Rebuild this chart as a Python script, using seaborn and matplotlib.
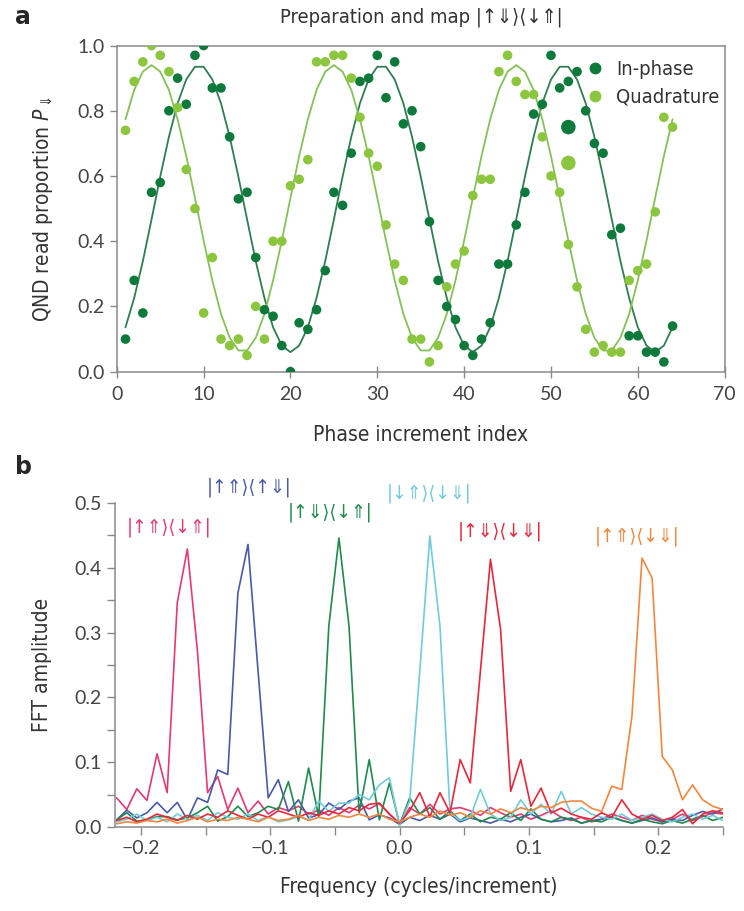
import numpy as np
import pandas as pd
import matplotlib
matplotlib.use('Agg')
import matplotlib.pyplot as plt
import seaborn as sns
from matplotlib.ticker import MultipleLocator
from matplotlib.lines import Line2D

# --- panel a: QND read proportion vs phase increment ---
idx = list(range(1, 65))
in_phase = [0.10, 0.28, 0.18, 0.55, 0.58, 0.80, 0.90, 0.82, 0.97, 1.00,
            0.87, 0.87, 0.72, 0.53, 0.55, 0.35, 0.19, 0.17, 0.08, 0.00,
            0.15, 0.13, 0.19, 0.31, 0.55, 0.51, 0.67, 0.89, 0.90, 0.97,
            0.84, 0.95, 0.76, 0.80, 0.69, 0.46, 0.28, 0.20, 0.16, 0.08,
            0.05, 0.10, 0.15, 0.33, 0.33, 0.45, 0.55, 0.79, 0.82, 0.97,
            0.87, 0.89, 0.92, 0.80, 0.70, 0.67, 0.42, 0.44, 0.11, 0.11,
            0.06, 0.06, 0.03, 0.14]
quadrature = [0.74, 0.89, 0.95, 1.00, 0.97, 0.92, 0.81, 0.62, 0.50, 0.18,
              0.35, 0.10, 0.08, 0.10, 0.05, 0.20, 0.10, 0.40, 0.40, 0.57,
              0.59, 0.65, 0.95, 0.95, 0.97, 0.97, 0.90, 0.78, 0.67, 0.63,
              0.45, 0.33, 0.28, 0.10, 0.10, 0.03, 0.08, 0.26, 0.33, 0.37,
              0.54, 0.59, 0.59, 0.92, 0.97, 0.89, 0.85, 0.85, 0.72, 0.60,
              0.55, 0.39, 0.26, 0.13, 0.06, 0.08, 0.06, 0.06, 0.28, 0.31,
              0.33, 0.49, 0.78, 0.75]
in_phase_fit = [0.136, 0.226, 0.339, 0.467, 0.598, 0.720, 0.823, 0.896, 0.935, 0.935,
                0.896, 0.823, 0.720, 0.598, 0.467, 0.339, 0.226, 0.136, 0.080, 0.060,
                0.080, 0.136, 0.226, 0.339, 0.467, 0.598, 0.720, 0.823, 0.896, 0.935,
                0.935, 0.896, 0.823, 0.720, 0.598, 0.467, 0.339, 0.226, 0.136, 0.080,
                0.060, 0.080, 0.136, 0.226, 0.339, 0.467, 0.598, 0.720, 0.823, 0.896,
                0.935, 0.935, 0.896, 0.823, 0.720, 0.598, 0.467, 0.339, 0.226, 0.136,
                0.080, 0.060, 0.080, 0.136]
quad_fit = [0.774, 0.864, 0.920, 0.940, 0.920, 0.864, 0.774, 0.661, 0.533, 0.402,
            0.280, 0.177, 0.104, 0.065, 0.065, 0.104, 0.177, 0.280, 0.402, 0.533,
            0.661, 0.774, 0.864, 0.920, 0.940, 0.920, 0.864, 0.774, 0.661, 0.533,
            0.402, 0.280, 0.177, 0.104, 0.065, 0.065, 0.104, 0.177, 0.280, 0.402,
            0.533, 0.661, 0.774, 0.864, 0.920, 0.940, 0.920, 0.864, 0.774, 0.661,
            0.533, 0.402, 0.280, 0.177, 0.104, 0.065, 0.065, 0.104, 0.177, 0.280,
            0.402, 0.533, 0.661, 0.774]
# two oversized markers sitting at index 52
big_idx = [52, 52]
big_val = [0.75, 0.64]
big_series = ['In-phase', 'Quadrature']

# --- panel b: FFT amplitude per preparation/map ---
fft_bins = list(range(-28, 33))   # bin k -> k/128 cycles/increment
map_labels = ['|↑⇑⟩⟨↓⇑|', '|↑⇑⟩⟨↑⇓|', '|↑⇓⟩⟨↓⇑|', '|↓⇑⟩⟨↓⇓|', '|↑⇓⟩⟨↓⇓|', '|↑⇑⟩⟨↓⇓|']
amp_magenta = [0.045, 0.027, 0.059, 0.041, 0.113, 0.053, 0.346, 0.429, 0.271, 0.053,
               0.078, 0.027, 0.060, 0.022, 0.040, 0.020, 0.030, 0.025, 0.032, 0.020,
               0.026, 0.018, 0.030, 0.022, 0.034, 0.028, 0.036, 0.020, 0.004, 0.030,
               0.020, 0.035, 0.020, 0.028, 0.030, 0.025, 0.018, 0.030, 0.022, 0.015,
               0.020, 0.012, 0.018, 0.025, 0.015, 0.010, 0.015, 0.008, 0.012, 0.020,
               0.015, 0.010, 0.018, 0.012, 0.008, 0.012, 0.020, 0.010, 0.016, 0.022,
               0.020]
amp_blue = [0.011, 0.026, 0.014, 0.022, 0.038, 0.022, 0.038, 0.011, 0.045, 0.038,
            0.088, 0.081, 0.361, 0.436, 0.240, 0.045, 0.073, 0.024, 0.042, 0.014,
            0.019, 0.037, 0.027, 0.040, 0.045, 0.011, 0.019, 0.014, 0.004, 0.015,
            0.010, 0.018, 0.012, 0.020, 0.008, 0.014, 0.010, 0.006, 0.012, 0.008,
            0.015, 0.020, 0.012, 0.008, 0.010, 0.014, 0.006, 0.010, 0.012, 0.016,
            0.010, 0.006, 0.010, 0.014, 0.008, 0.012, 0.010, 0.018, 0.024, 0.020,
            0.028]
amp_green = [0.011, 0.022, 0.009, 0.011, 0.016, 0.016, 0.011, 0.014, 0.022, 0.032,
             0.009, 0.016, 0.032, 0.016, 0.022, 0.032, 0.027, 0.070, 0.009, 0.091,
             0.016, 0.310, 0.446, 0.310, 0.022, 0.104, 0.011, 0.068, 0.004, 0.045,
             0.020, 0.030, 0.012, 0.025, 0.010, 0.020, 0.008, 0.015, 0.012, 0.022,
             0.010, 0.028, 0.012, 0.008, 0.015, 0.012, 0.006, 0.010, 0.008, 0.015,
             0.010, 0.006, 0.012, 0.008, 0.005, 0.010, 0.006, 0.012, 0.018, 0.010,
             0.015]
amp_cyan = [0.008, 0.012, 0.020, 0.010, 0.015, 0.008, 0.020, 0.012, 0.018, 0.010,
            0.022, 0.015, 0.012, 0.020, 0.010, 0.016, 0.008, 0.011, 0.016, 0.011,
            0.040, 0.024, 0.037, 0.037, 0.050, 0.042, 0.065, 0.076, 0.002, 0.040,
            0.240, 0.449, 0.310, 0.022, 0.010, 0.015, 0.058, 0.020, 0.010, 0.015,
            0.042, 0.020, 0.035, 0.020, 0.055, 0.020, 0.030, 0.020, 0.015, 0.012,
            0.020, 0.010, 0.015, 0.020, 0.012, 0.008, 0.015, 0.020, 0.012, 0.018,
            0.010]
amp_red = [0.010, 0.015, 0.008, 0.012, 0.020, 0.015, 0.010, 0.018, 0.012, 0.020,
           0.015, 0.025, 0.018, 0.012, 0.020, 0.015, 0.025, 0.020, 0.015, 0.022,
           0.018, 0.025, 0.020, 0.030, 0.025, 0.035, 0.037, 0.020, 0.006, 0.025,
           0.053, 0.016, 0.053, 0.022, 0.104, 0.068, 0.240, 0.413, 0.305, 0.055,
           0.104, 0.032, 0.060, 0.022, 0.029, 0.020, 0.015, 0.012, 0.022, 0.015,
           0.042, 0.020, 0.012, 0.018, 0.010, 0.015, 0.027, 0.005, 0.020, 0.025,
           0.022]
amp_orange = [0.005, 0.008, 0.006, 0.010, 0.008, 0.012, 0.006, 0.010, 0.015, 0.008,
              0.012, 0.010, 0.015, 0.012, 0.008, 0.015, 0.010, 0.012, 0.018, 0.010,
              0.015, 0.012, 0.018, 0.015, 0.020, 0.015, 0.020, 0.012, 0.008, 0.015,
              0.020, 0.015, 0.025, 0.018, 0.022, 0.015, 0.025, 0.020, 0.028, 0.022,
              0.030, 0.025, 0.032, 0.030, 0.038, 0.040, 0.040, 0.029, 0.024, 0.063,
              0.058, 0.171, 0.415, 0.384, 0.109, 0.088, 0.042, 0.065, 0.042, 0.032,
              0.027]
label_x = [-0.178, -0.116, -0.054, 0.023, 0.0775, 0.184]
label_y = [0.463, 0.525, 0.485, 0.515, 0.457, 0.448]

map_colors = ['#e33a72', '#4a59a6', '#1f8a4e', '#72cbd8', '#e5283c', '#f1873f']

# --- style ---
sns.set_style('ticks')
plt.rcParams['font.family'] = ['DejaVu Sans']
plt.rcParams['font.stretch'] = 'condensed'
plt.rcParams['mathtext.fontset'] = 'dejavusans'
plt.rcParams['axes.edgecolor'] = '#8a8a8a'
plt.rcParams['xtick.color'] = '#8a8a8a'
plt.rcParams['ytick.color'] = '#8a8a8a'
plt.rcParams['xtick.labelcolor'] = '#444444'
plt.rcParams['ytick.labelcolor'] = '#444444'
tick_font = {'family': ['Lato', 'DejaVu Sans'], 'size': 14, 'stretch': 'normal'}
label_kw = dict(fontsize=15, color='#333333')

fig = plt.figure(figsize=(7.44, 9.11), dpi=100)

# ---------- panel a ----------
ax1 = fig.add_axes([0.157, 0.592, 0.817, 0.358])
pts = pd.DataFrame({'index': idx * 2,
                    'P': in_phase + quadrature,
                    'series': ['In-phase'] * 64 + ['Quadrature'] * 64})
fits = pd.DataFrame({'index': idx * 2,
                     'P': in_phase_fit + quad_fit,
                     'series': ['In-phase'] * 64 + ['Quadrature'] * 64})
big = pd.DataFrame({'index': big_idx, 'P': big_val, 'series': big_series})

pt_pal = {'In-phase': '#0d7a3c', 'Quadrature': '#8cc63f'}
fit_pal = {'In-phase': '#2f7d50', 'Quadrature': '#86c05a'}

sns.lineplot(data=fits, x='index', y='P', hue='series', palette=fit_pal,
             legend=False, lw=1.3, ax=ax1)
sns.scatterplot(data=pts, x='index', y='P', hue='series', palette=pt_pal,
                s=48, edgecolor='none', legend=False, ax=ax1, zorder=3)
sns.scatterplot(data=big, x='index', y='P', hue='series', palette=pt_pal,
                s=110, edgecolor='none', legend=False, ax=ax1, zorder=3)

ax1.set_xticks([0, 10, 20, 30, 40, 50, 60, 70])
ax1.set_xticklabels(['0', '10', '20', '30', '40', '50', '60', '70'], fontdict=tick_font)
ax1.set_yticks([0, 0.2, 0.4, 0.6, 0.8, 1.0])
ax1.set_yticklabels([f'{v:.1f}' for v in [0, 0.2, 0.4, 0.6, 0.8, 1.0]], fontdict=tick_font)
ax1.set_xlim(0, 70)
ax1.set_ylim(0, 1.0)
ax1.tick_params(axis='x', direction='inout', length=8, width=1, pad=6)
ax1.tick_params(axis='y', direction='out', length=5, width=1)
ax1.set_xlabel('Phase increment index', labelpad=16, **label_kw)
ax1.set_ylabel(r'QND read proportion $P_{\Downarrow}$', labelpad=16, **label_kw)
for sp in ax1.spines.values():
    sp.set_linewidth(1.1)

handles = [Line2D([], [], marker='o', ls='none', color=pt_pal[n], markersize=7.5, label=n)
           for n in ['In-phase', 'Quadrature']]
ax1.legend(handles=handles, loc='upper right', bbox_to_anchor=(1.015, 1.0),
           frameon=False, fontsize=14.5, handletextpad=0.05, labelspacing=0.45,
           borderaxespad=0.3, labelcolor='#333333')

fig.text(0.566, 1 - 17 / 911, 'Preparation and map |↑⇓⟩⟨↓⇑|', ha='center', va='center',
         fontsize=14.5, color='#333333')
fig.text(0.02, 1 - 17 / 911, 'a', fontsize=17, fontweight='bold', va='center',
         stretch='normal')

# ---------- panel b ----------
ax2 = fig.add_axes([0.1546, 0.0922, 0.817, 0.3557])
rows = []
amps = [amp_magenta, amp_blue, amp_green, amp_cyan, amp_red, amp_orange]
for name, series in zip(map_labels, amps):
    for k, a in zip(fft_bins, series):
        rows.append({'freq': k / 128, 'amp': a, 'map': name})
fft = pd.DataFrame(rows)
sns.lineplot(data=fft, x='freq', y='amp', hue='map',
             palette=dict(zip(map_labels, map_colors)), hue_order=map_labels,
             legend=False, lw=1.2, estimator=None, ax=ax2)

for lab, x, y, c in zip(map_labels, label_x, label_y, map_colors):
    ax2.text(x, y, lab, color=c, ha='center', va='center', fontsize=14, clip_on=False)

xt = [-0.2, -0.1, 0.0, 0.1, 0.2]
ax2.set_xticks(xt)
ax2.set_xticklabels(['\u22120.2', '\u22120.1', '0.0', '0.1', '0.2'], fontdict=tick_font)
ax2.xaxis.set_minor_locator(MultipleLocator(0.05))
yt = [0, 0.1, 0.2, 0.3, 0.4, 0.5]
ax2.set_yticks(yt)
ax2.set_yticklabels([f'{v:.1f}' for v in yt], fontdict=tick_font)
ax2.yaxis.set_minor_locator(MultipleLocator(0.05))
ax2.set_xlim(-0.22, 0.25)
ax2.set_ylim(0, 0.5)
ax2.tick_params(which='both', direction='out', length=6, width=1)
ax2.set_xlabel('Frequency (cycles/increment)', labelpad=14, **label_kw)
ax2.set_ylabel('FFT amplitude', labelpad=16, **label_kw)
sns.despine(ax=ax2)
for sp in ax2.spines.values():
    sp.set_linewidth(1.1)

fig.text(0.02, 1 - 467 / 911, 'b', fontsize=17, fontweight='bold', va='center',
         stretch='normal')

fig.savefig('out.png', dpi=100)
